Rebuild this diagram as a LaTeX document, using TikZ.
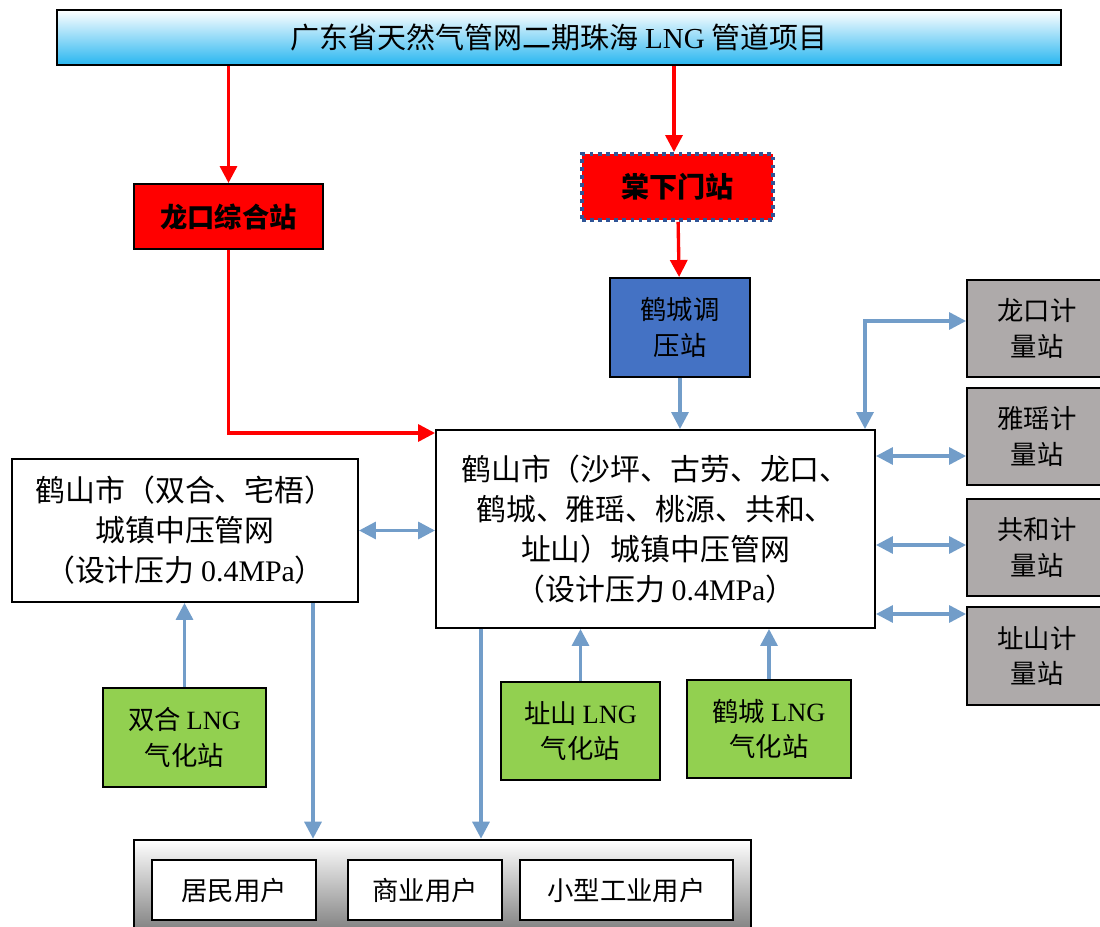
\documentclass[tikz,border=0pt]{standalone}
\usepackage{fontspec}
\setmainfont{Noto Sans CJK SC}
\newfontfamily\latin{Liberation Serif}
\usetikzlibrary{arrows.meta}

\definecolor{pipeblue}{RGB}{114,157,201}
\definecolor{skyblue}{RGB}{40,182,240}
\definecolor{regblue}{RGB}{68,114,196}
\definecolor{dotblue}{RGB}{47,85,151}
\definecolor{lngreen}{RGB}{146,208,80}
\definecolor{metergray}{RGB}{174,170,170}

\begin{document}
\begin{tikzpicture}[x=0.2mm, y=-0.2mm, >={Triangle[length=3.4mm,width=3.4mm]},
    box/.style={draw=black, line width=1.1pt, inner sep=0pt, align=center, font=\fontsize{17}{22.7}\selectfont},
    small/.style={box, font=\fontsize{15}{20}\selectfont},
    redline/.style={draw=red, line width=1.9pt, ->},
    blueline/.style={draw=pipeblue, line width=1.9pt, ->}]
      \clip (0,0) rectangle (1100,927);

      \node[box, minimum width=200.8mm, minimum height=11mm, top color=white, bottom color=skyblue, font=\fontsize{16.5}{18}\selectfont] (proj) at (559,37.5) {广东省天然气管网二期珠海 {\latin LNG} 管道项目};

      \node[box, fill=red, minimum width=37.8mm, minimum height=13mm, font=\fontsize{15.5}{18}\selectfont\bfseries] (lkz) at (228.5,216.5) {龙口综合站};
      \node[box, draw=dotblue, line width=2.2pt, dash pattern=on 2.2pt off 2.4pt, fill=red, minimum width=38.2mm, minimum height=13.2mm, font=\fontsize{16}{18}\selectfont\bfseries] (txm) at (677.5,187) {棠下门站};
      \node[small, fill=regblue, minimum width=28mm, minimum height=19.8mm] (hctz) at (680,327.5) {鹤城调\\压站};

      \node[box, fill=white, minimum width=87.8mm, minimum height=39.6mm] (hsnet) at (655.5,529) {鹤山市（沙坪、古劳、龙口、\\鹤城、雅瑶、桃源、共和、\\址山）城镇中压管网\\（设计压力 {\latin 0.4MPa}）};
      \node[box, fill=white, minimum width=69.2mm, minimum height=28.6mm] (shnet) at (185,530.5) {鹤山市（双合、宅梧）\\城镇中压管网\\（设计压力 {\latin 0.4MPa}）};

      \node[small, fill=metergray, minimum width=28mm, minimum height=19.4mm] (lkjl) at (1037,328.5) {龙口计\\量站};
      \node[small, fill=metergray, minimum width=28mm, minimum height=19.4mm] (yyjl) at (1037,436.5) {雅瑶计\\量站};
      \node[small, fill=metergray, minimum width=28mm, minimum height=19.4mm] (ghjl) at (1037,547.5) {共和计\\量站};
      \node[small, fill=metergray, minimum width=28mm, minimum height=19.6mm] (zsjl) at (1037,656) {址山计\\量站};

      \node[small, fill=lngreen, minimum width=32.6mm, minimum height=19.8mm] (shqh) at (184.5,737.5) {双合 {\latin LNG}\\气化站};
      \node[small, fill=lngreen, minimum width=31.8mm, minimum height=19.6mm] (zsqh) at (580.5,731) {址山 {\latin LNG}\\气化站};
      \node[small, fill=lngreen, minimum width=32.8mm, minimum height=19.6mm] (hcqh) at (769,729) {鹤城 {\latin LNG}\\气化站};

      \node[box, line width=1.5pt, top color=white, bottom color=black!60, minimum width=123.4mm, minimum height=22mm] (users) at (442.5,895) {};
      \node[small, line width=0.8pt, fill=white, minimum width=32.8mm, minimum height=12mm] (jm) at (234,890) {居民用户};
      \node[small, line width=0.8pt, fill=white, minimum width=30.8mm, minimum height=12mm] (sy) at (425,890) {商业用户};
      \node[small, line width=0.8pt, fill=white, minimum width=42.6mm, minimum height=12mm] (gy) at (626.5,890) {小型工业用户};

      % red lines from the project
      \draw[redline] (proj.south -| lkz) -- (lkz);
      \draw[redline] (proj.south -| 674,0) -- (txm.north -| 674,0);
      \draw[redline] (txm) -- (hctz);
      \draw[redline] (lkz) |- (0,433 -| hsnet.west);

      % blue lines
      \draw[blueline] (hctz) -- (hctz |- hsnet.north);
      \draw[blueline,<->] (865,0 |- hsnet.north) |- (lkjl.west |- 0,321);
      \draw[blueline,<->] (hsnet.east |- 0,456) -- (yyjl.west |- 0,456);
      \draw[blueline,<->] (hsnet.east |- 0,545) -- (ghjl.west |- 0,545);
      \draw[blueline,<->] (hsnet.east |- 0,614) -- (zsjl.west |- 0,614);
      \draw[blueline,<->] (shnet) -- (shnet -| hsnet.west);
      \draw[blueline] (shqh) -- (shqh |- shnet.south);
      \draw[blueline] (zsqh) -- (zsqh |- hsnet.south);
      \draw[blueline] (hcqh) -- (hcqh |- hsnet.south);
      \draw[blueline] (313,0 |- shnet.south) -- (313,0 |- users.north);
      \draw[blueline] (481,0 |- hsnet.south) -- (481,0 |- users.north);
\end{tikzpicture}
\end{document}
